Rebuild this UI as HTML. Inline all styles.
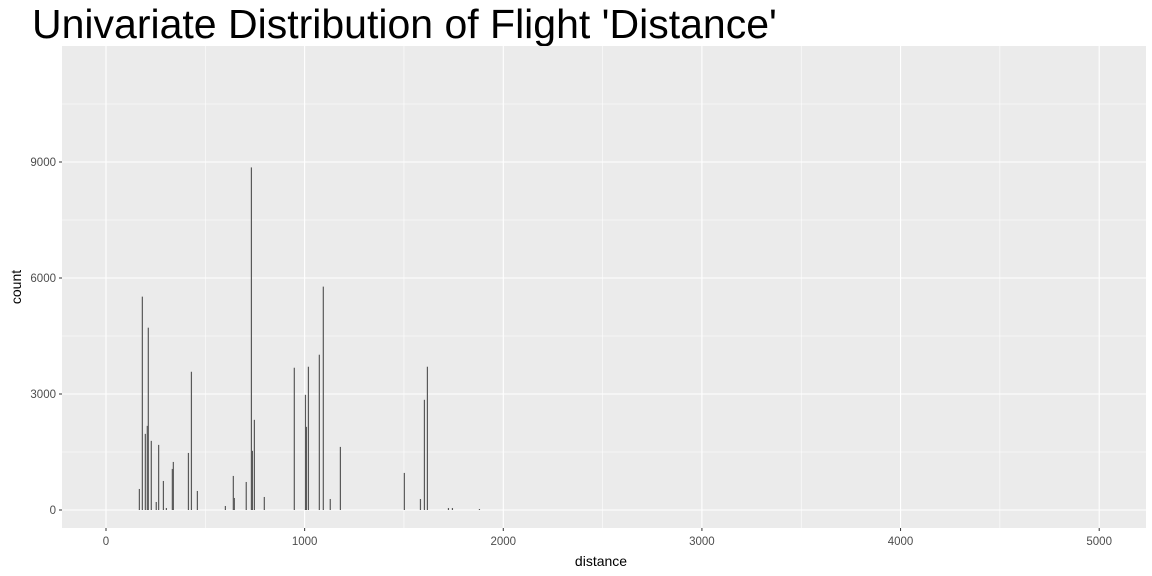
<!DOCTYPE html>
<html><head><meta charset="utf-8"><style>body{margin:0;background:#fff}svg{display:block;font-family:"Liberation Sans",sans-serif}</style></head>
<body>
<svg id="chart" width="1152" height="576" viewBox="0 0 1152 576">
<text x="32" y="38" font-size="41" fill="#000">Univariate Distribution of Flight 'Distance'</text>
<rect x="62" y="46" width="1084" height="482" fill="#ebebeb"/>
<g id="grid"></g><g id="bars"></g><g id="axes"></g>
<text x="601" y="566" font-size="14" text-anchor="middle" fill="#000">distance</text>
<text transform="translate(21,287) rotate(-90)" font-size="14" text-anchor="middle" fill="#000">count</text>
</svg>
<script>
const distances=[168,183,198,208,213,228,253,265,289,304,334,339,415,430,460,601,641,646,706,732,737,747,797,948,1004,1009,1019,1074,1094,1129,1180,1502,1583,1603,1618,1724,1744,1880];
const counts=[544,5518,1969,2176,4715,1788,207,1684,751,52,1062,1243,1476,3575,492,104,881,311,725,8860,1530,2332,337,3679,2979,2150,3705,4016,5777,285,1632,959,285,2850,3705,52,52,26];
const xTicks=[0,1000,2000,3000,4000,5000];
const yTicks=[0,3000,6000,9000];
const ns='http://www.w3.org/2000/svg';
const X=v=>106+v*0.19864, Y=v=>510-v*0.038667;
function mk(tag,attrs,parent){const e=document.createElementNS(ns,tag);for(const k in attrs)e.setAttribute(k,attrs[k]);parent.appendChild(e);return e;}
const grid=document.getElementById('grid'),bars=document.getElementById('bars'),axes=document.getElementById('axes');
for(let v=-1500;v<=12000;v+=1500){const y=Y(v);if(y<46||y>528)continue;const major=v%3000===0;
 const l=mk('line',{x1:62,x2:1146,y1:y,y2:y,stroke:'#fff','stroke-width':major?1.1:0.55},grid);
 
 }
for(let v=0;v<=5000;v+=500){const x=X(v);const major=v%1000===0;
 const l=mk('line',{x1:x,x2:x,y1:46,y2:528,stroke:'#fff','stroke-width':major?1.1:0.55},grid);
 
 }
distances.forEach((d,i)=>{const x=X(d),y=Y(counts[i]);
 const r=mk('rect',{x:x-0.6,y:y,width:1.2,height:Y(0)-y,fill:'#595959'},bars);
 
 });
xTicks.forEach(v=>{const x=X(v);mk('line',{x1:x,x2:x,y1:528,y2:531,stroke:'#333'},axes);
 const t=mk('text',{x:x,y:545,'font-size':11.5,'text-anchor':'middle',fill:'#4d4d4d'},axes);t.textContent=v;
 
 });
yTicks.forEach(v=>{const y=Y(v);mk('line',{x1:59,x2:62,y1:y,y2:y,stroke:'#333'},axes);
 const t=mk('text',{x:56,y:y+4,'font-size':11.5,'text-anchor':'end',fill:'#4d4d4d'},axes);t.textContent=v;
 
 });
</script>
</body></html>
